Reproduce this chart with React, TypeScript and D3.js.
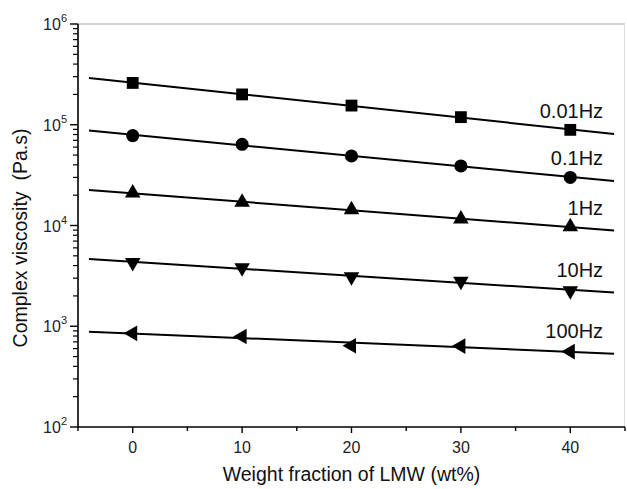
import React, { useEffect, useRef } from 'react';
import * as d3 from 'd3';

// LMW weight fraction (wt%)
const fractions = [0, 10, 20, 30, 40];

// complex viscosity (Pa.s) at each frequency
const visc001Hz = [2.6e5, 2.0e5, 1.55e5, 1.19e5, 8.9e4];
const visc01Hz = [7.8e4, 6.4e4, 4.9e4, 3.9e4, 3.0e4];
const visc1Hz = [2.1e4, 1.7e4, 1.43e4, 1.16e4, 9.7e3];
const visc10Hz = [4.3e3, 3.8e3, 3.1e3, 2.8e3, 2.25e3];
const visc100Hz = [850, 790, 640, 635, 560];

const seriesNames = ['0.01Hz', '0.1Hz', '1Hz', '10Hz', '100Hz'];
const xTicks = [0, 10, 20, 30, 40];
const yTicks = [1e2, 1e3, 1e4, 1e5, 1e6];

const W = 627;
const H = 489;
const margin = { top: 24, right: 2, bottom: 62, left: 78 };
const FONT = 'Arial, "Liberation Sans", sans-serif';

const App = () => {
    const ref = useRef<SVGSVGElement>(null);

    useEffect(() => {
        const svg = d3.select(ref.current);
        svg.selectAll('*').remove();

        const x = d3.scaleLinear().domain([-5, 45]).range([margin.left, W - margin.right]);
        const y = d3.scaleLog().domain([1e2, 1e6]).range([H - margin.bottom, margin.top]);

        const data = [visc001Hz, visc01Hz, visc1Hz, visc10Hz, visc100Hz];
        const symbols = [
            { type: d3.symbolSquare, size: 140, rot: 0 },
            { type: d3.symbolCircle, size: 135, rot: 0 },
            { type: d3.symbolTriangle, size: 105, rot: 0 },
            { type: d3.symbolTriangle, size: 105, rot: 180 },
            { type: d3.symbolTriangle, size: 105, rot: -90 },
        ];

        // frame: top / right in light grey
        svg.append('line')
            .attr('x1', x(-5)).attr('x2', x(45))
            .attr('y1', y(1e6)).attr('y2', y(1e6))
            .attr('stroke', '#aaa').attr('stroke-width', 1.2);
        svg.append('line')
            .attr('x1', x(45) - 0.5).attr('x2', x(45) - 0.5)
            .attr('y1', y(1e6)).attr('y2', y(1e2))
            .attr('stroke', '#ddd').attr('stroke-width', 1);

        // x axis
        const gx = svg.append('g').attr('transform', `translate(0,${y(1e2)})`);
        gx.append('line')
            .attr('x1', x(-5)).attr('x2', x(45))
            .attr('stroke', '#000').attr('stroke-width', 1.6);
        d3.range(-5, 46, 5).forEach(v => {
            const major = v % 10 === 0;
            gx.append('line')
                .attr('x1', x(v)).attr('x2', x(v))
                .attr('y1', 0).attr('y2', major ? 6 : 4)
                .attr('stroke', '#000').attr('stroke-width', 1.4);
        });
        gx.selectAll('text.tick')
            .data(xTicks)
            .enter()
            .append('text')
            .attr('x', d => x(d))
            .attr('y', 26)
            .attr('text-anchor', 'middle')
            .attr('font-family', FONT)
            .attr('font-size', 16)
            .attr('fill', '#222')
            .text(d => d);

        // y axis
        const gy = svg.append('g').attr('transform', `translate(${x(-5)},0)`);
        gy.append('line')
            .attr('y1', y(1e2)).attr('y2', y(1e6))
            .attr('stroke', '#000').attr('stroke-width', 1.6);
        for (let e = 2; e < 6; e++) {
            for (let m = 2; m <= 9; m++) {
                const v = m * Math.pow(10, e);
                gy.append('line')
                    .attr('x1', -5).attr('x2', 0)
                    .attr('y1', y(v)).attr('y2', y(v))
                    .attr('stroke', '#000').attr('stroke-width', 1.2);
            }
        }
        yTicks.forEach(v => {
            gy.append('line')
                .attr('x1', -8).attr('x2', 0)
                .attr('y1', y(v)).attr('y2', y(v))
                .attr('stroke', '#000').attr('stroke-width', 1.4);
            const t = gy.append('text')
                .attr('x', -11)
                .attr('y', y(v) + 6)
                .attr('text-anchor', 'end')
                .attr('font-family', FONT)
                .attr('fill', '#222');
            t.append('tspan').attr('font-size', 16).text('10');
            t.append('tspan').attr('font-size', 11).attr('dy', -8).text(Math.round(Math.log10(v)));
        });

        // fitted lines, markers, labels
        data.forEach((vals, i) => {
            const pts = fractions.map((f, j) => [f, Math.log10(vals[j])]);
            const mx = d3.mean(pts, p => p[0]) as number;
            const my = d3.mean(pts, p => p[1]) as number;
            const slope = d3.sum(pts, p => (p[0] - mx) * (p[1] - my)) / d3.sum(pts, p => (p[0] - mx) ** 2);
            const fit = (xv: number) => Math.pow(10, my + slope * (xv - mx));

            svg.append('path')
                .datum([-4, 44])
                .attr('fill', 'none')
                .attr('stroke', '#000')
                .attr('stroke-width', 2)
                .attr('d', d3.line<number>().x(d => x(d)).y(d => y(fit(d))));

            const sym = symbols[i];
            svg.selectAll(`.m${i}`)
                .data(fractions)
                .enter()
                .append('path')
                .attr('class', `m${i}`)
                .attr('transform', (d, j) => `translate(${x(d)},${y(vals[j])}) rotate(${sym.rot})`)
                .attr('d', d3.symbol().type(sym.type).size(sym.size)())
                .attr('fill', '#000');

            svg.append('text')
                .attr('x', x(43))
                .attr('y', y(fit(43)) - 15)
                .attr('text-anchor', 'end')
                .attr('font-family', FONT)
                .attr('font-size', 20)
                .attr('fill', '#111')
                .text(seriesNames[i]);
        });

        // axis titles
        svg.append('text')
            .attr('x', (x(-5) + x(45)) / 2)
            .attr('y', 481)
            .attr('text-anchor', 'middle')
            .attr('font-family', FONT)
            .attr('font-size', 19.5)
            .attr('fill', '#111')
            .text('Weight fraction of LMW (wt%)');

        svg.append('text')
            .attr('transform', `translate(27,238) rotate(-90)`)
            .attr('text-anchor', 'middle')
            .attr('font-family', FONT)
            .attr('font-size', 19.5)
            .attr('fill', '#111')
            .attr('xml:space', 'preserve')
            .style('white-space', 'pre')
            .text('Complex viscosity  (Pa.s)');
    }, []);

    return (
        <svg ref={ref} width={W} height={H}
            style={{ position: 'absolute', left: 0, top: 0, background: '#fff' }} />
    );
};

export default App;
